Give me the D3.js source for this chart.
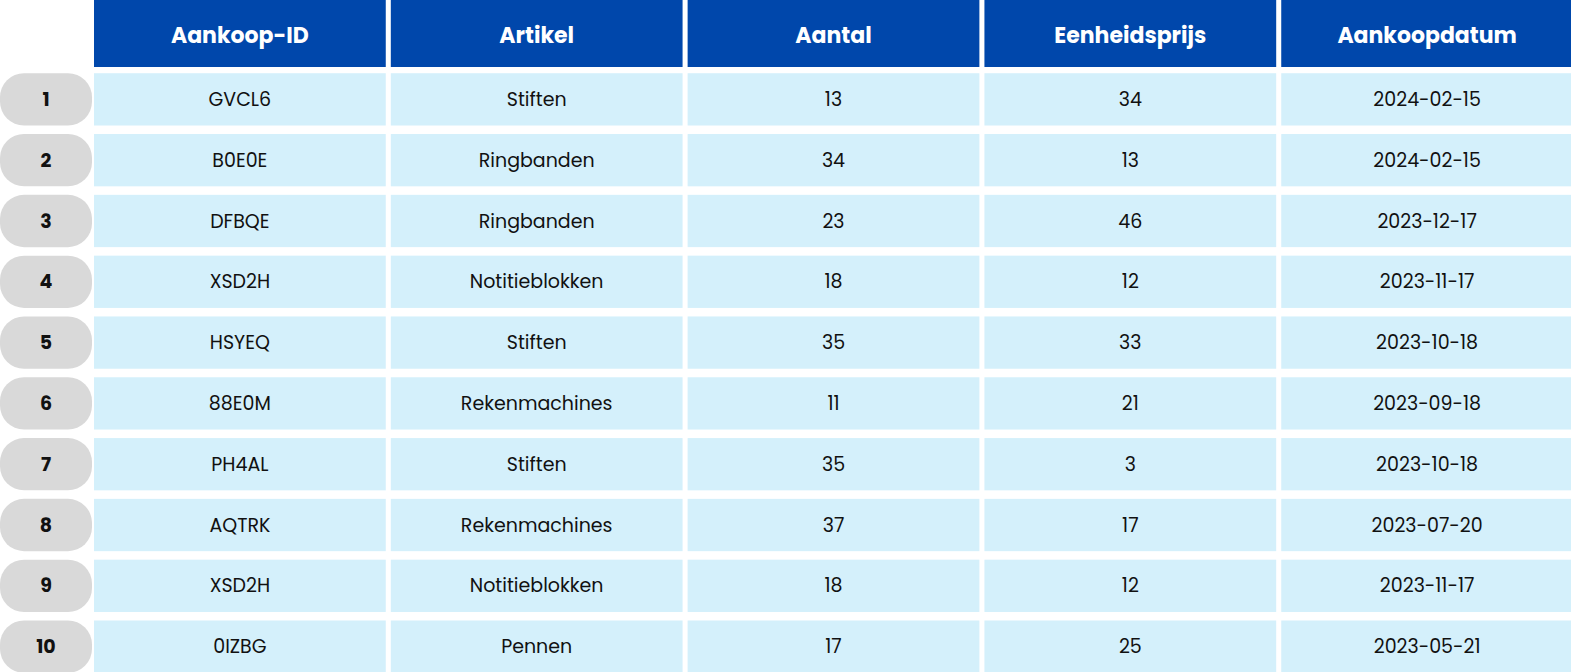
<!DOCTYPE html>
<html><head><meta charset="utf-8">
<script src="https://cdn.jsdelivr.net/npm/d3@7"></script>
<style>body{margin:0;background:#fff}svg{display:block}</style>
</head><body>
<script>
const columns = ["Aankoop-ID", "Artikel", "Aantal", "Eenheidsprijs", "Aankoopdatum"];
const ids = ["GVCL6", "B0E0E", "DFBQE", "XSD2H", "HSYEQ", "88E0M", "PH4AL", "AQTRK", "XSD2H", "0IZBG"];
const items = ["Stiften", "Ringbanden", "Ringbanden", "Notitieblokken", "Stiften", "Rekenmachines", "Stiften", "Rekenmachines", "Notitieblokken", "Pennen"];
const quantities = [13, 34, 23, 18, 35, 11, 35, 37, 18, 17];
const prices = [34, 13, 46, 12, 33, 21, 3, 17, 12, 25];
const dates = ["2024-02-15", "2024-02-15", "2023-12-17", "2023-11-17", "2023-10-18", "2023-09-18", "2023-10-18", "2023-07-20", "2023-11-17", "2023-05-21"];

const rows = ids.map((id, i) => [id, items[i], quantities[i], prices[i], dates[i]]);

const width = 1571, height = 672;
const font = "Poppins, Inter, 'Open Sans', sans-serif";

const svg = d3.select("body").append("svg").attr("width", width).attr("height", height);

const x = d3.scaleBand().domain(columns).range([94, 1573]).paddingInner(0.017);
const y = d3.scaleBand().domain(d3.range(rows.length)).range([72, 674]).paddingInner(0.14).paddingOuter(0.02);

// header
const head = svg.append("g").selectAll("g").data(columns).join("g");
head.append("rect")
    .attr("x", d => x(d)).attr("y", 0)
    .attr("width", x.bandwidth()).attr("height", 67)
    .attr("fill", "#0047AB");
head.append("text")
    .attr("x", d => x(d) + x.bandwidth() / 2).attr("y", 35)
    .attr("dy", "0.35em").attr("text-anchor", "middle")
    .attr("fill", "#fff").attr("font-family", font)
    .attr("font-weight", 700).attr("font-size", 22)
    .text(d => d);

// row index pills
const idx = svg.append("g").selectAll("g").data(rows).join("g");
idx.append("rect")
    .attr("x", 0).attr("y", (d, i) => y(i))
    .attr("width", 92).attr("height", y.bandwidth())
    .attr("rx", 24).attr("fill", "#d9d9d9");
idx.append("text")
    .attr("x", 46).attr("y", (d, i) => y(i) + y.bandwidth() / 2)
    .attr("dy", "0.35em").attr("text-anchor", "middle")
    .attr("font-family", font).attr("font-weight", 700).attr("font-size", 19)
    .attr("fill", "#111")
    .text((d, i) => i + 1);

// cells
const rowG = svg.append("g").selectAll("g").data(rows).join("g")
    .attr("transform", (d, i) => `translate(0,${y(i)})`);
const cell = rowG.selectAll("g").data(d => d.map((v, j) => ({ v, c: columns[j] }))).join("g");
cell.append("rect")
    .attr("x", d => x(d.c)).attr("y", 0)
    .attr("width", x.bandwidth()).attr("height", y.bandwidth())
    .attr("fill", "#d4f0fb");
cell.append("text")
    .attr("x", d => x(d.c) + x.bandwidth() / 2).attr("y", y.bandwidth() / 2)
    .attr("dy", "0.35em").attr("text-anchor", "middle")
    .attr("font-family", font).attr("font-size", 19).attr("fill", "#111")
    .text(d => d.v);
</script>
</body></html>
